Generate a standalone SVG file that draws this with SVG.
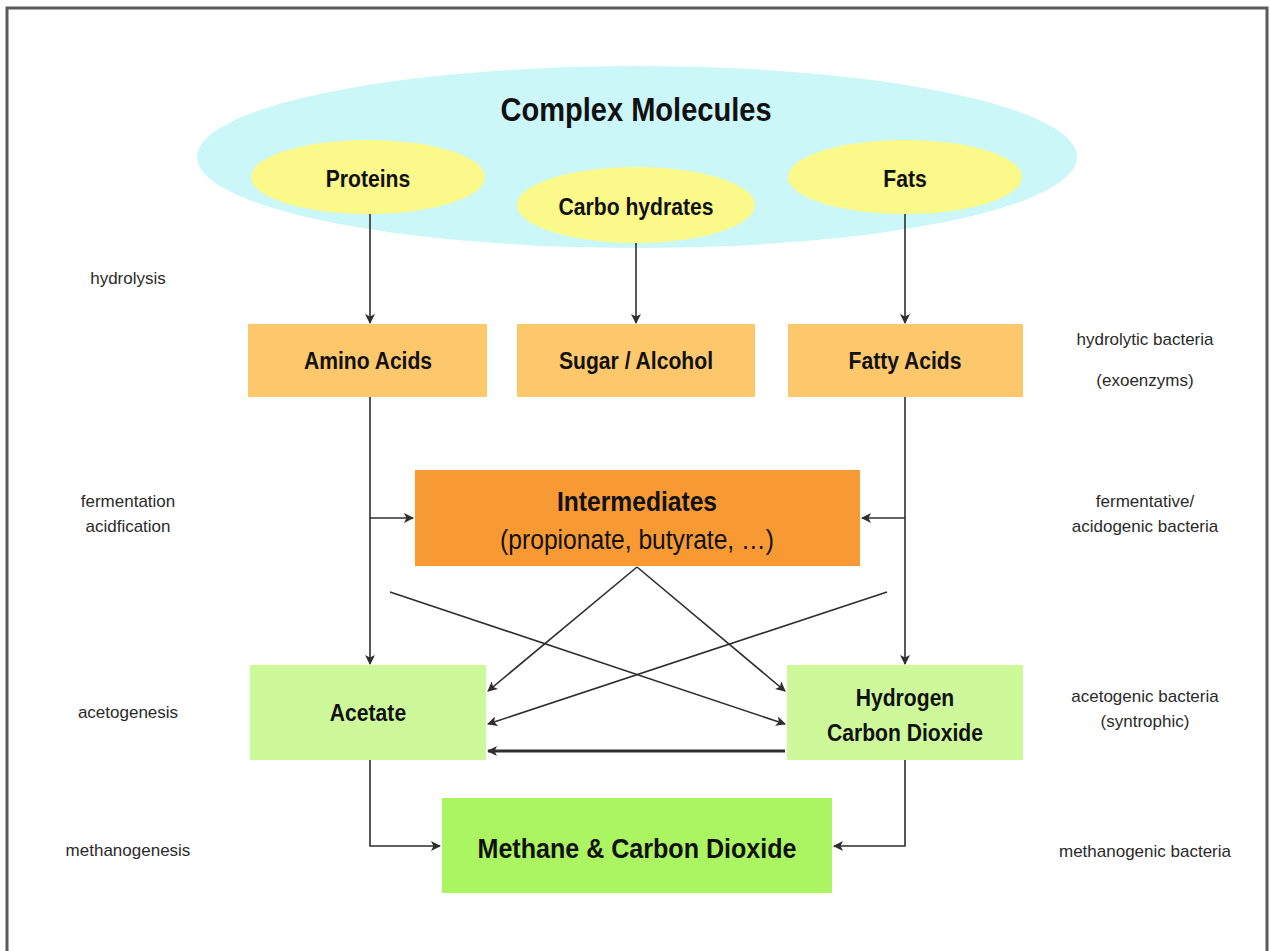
<svg xmlns="http://www.w3.org/2000/svg" width="1270" height="951" viewBox="0 0 1270 951">
  <defs>
    <marker id="arrow" viewBox="0 0 10 10" refX="9" refY="5" markerWidth="10" markerHeight="10" markerUnits="userSpaceOnUse" orient="auto">
      <path d="M0,0 L10,5 L0,10 L2.5,5 Z" fill="#2e2e2e"/>
    </marker>
    <style>
      .node-title { font-family: "Liberation Sans", Arial, sans-serif; font-weight: bold; fill: #111; text-anchor: middle; }
      .node-sub { font-family: "Liberation Sans", Arial, sans-serif; fill: #111; text-anchor: middle; }
      .stage { font-family: "Liberation Sans", Arial, sans-serif; font-size: 17px; fill: #2a2a2a; text-anchor: middle; }
      .conn { fill: none; stroke: #2e2e2e; stroke-width: 1.6; }
      .conn.heavy { stroke-width: 3; }
      .box-yellow { fill: #fbf98a; }
      .box-orange { fill: #fdc86c; }
      .box-deep { fill: #f89a33; }
      .box-lime { fill: #cdf99b; }
      .box-green { fill: #acf562; }
    </style>
  </defs>

  <rect width="1270" height="951" fill="#ffffff"/>
  <!-- page frame (open at the bottom) -->
  <path d="M7,951 L7,8 L1267,8 L1267,951" fill="none" stroke="#5a5a5a" stroke-width="3"/>

  <!-- substrate group; node labels use a slightly condensed bold face -->
  <g id="complex-molecules">
    <ellipse cx="637" cy="157" rx="440" ry="91" fill="#cbf7f9"/>
    <text class="node-title" transform="translate(636,121) scale(0.88,1)" font-size="33">Complex Molecules</text>
  </g>
  <g id="proteins">
    <ellipse class="box-yellow" cx="368" cy="177" rx="117" ry="37"/>
    <text class="node-title" transform="translate(368,187) scale(0.88,1)" font-size="24">Proteins</text>
  </g>
  <g id="carbohydrates">
    <ellipse class="box-yellow" cx="636" cy="205" rx="119" ry="38"/>
    <text class="node-title" transform="translate(636,215) scale(0.88,1)" font-size="24">Carbo hydrates</text>
  </g>
  <g id="fats">
    <ellipse class="box-yellow" cx="905" cy="177" rx="117" ry="37"/>
    <text class="node-title" transform="translate(905,187) scale(0.88,1)" font-size="24">Fats</text>
  </g>

  <!-- hydrolysis products -->
  <g id="amino-acids">
    <rect class="box-orange" x="248" y="324" width="239" height="73"/>
    <text class="node-title" transform="translate(368,369) scale(0.88,1)" font-size="24">Amino Acids</text>
  </g>
  <g id="sugar-alcohol">
    <rect class="box-orange" x="517" y="324" width="238" height="73"/>
    <text class="node-title" transform="translate(636,369) scale(0.88,1)" font-size="24">Sugar / Alcohol</text>
  </g>
  <g id="fatty-acids">
    <rect class="box-orange" x="788" y="324" width="235" height="73"/>
    <text class="node-title" transform="translate(905,369) scale(0.88,1)" font-size="24">Fatty Acids</text>
  </g>

  <g id="intermediates">
    <rect class="box-deep" x="415" y="470" width="445" height="96"/>
    <text class="node-title" transform="translate(637,511) scale(0.88,1)" font-size="28">Intermediates</text>
    <text class="node-sub" transform="translate(637,549) scale(0.88,1)" font-size="28">(propionate, butyrate, …)</text>
  </g>

  <g id="acetate">
    <rect class="box-lime" x="250" y="665" width="236" height="95"/>
    <text class="node-title" transform="translate(368,721) scale(0.88,1)" font-size="24">Acetate</text>
  </g>
  <g id="hydrogen-co2">
    <rect class="box-lime" x="787" y="665" width="236" height="95"/>
    <text class="node-title" transform="translate(905,706) scale(0.88,1)" font-size="24">Hydrogen</text>
    <text class="node-title" transform="translate(905,741) scale(0.88,1)" font-size="24">Carbon Dioxide</text>
  </g>

  <g id="methane-co2">
    <rect class="box-green" x="442" y="798" width="390" height="95"/>
    <text class="node-title" transform="translate(637,858) scale(0.88,1)" font-size="28.5">Methane &amp; Carbon Dioxide</text>
  </g>

  <!-- connectors -->
  <g id="connectors">
    <line class="conn" x1="370" y1="214" x2="370" y2="323" marker-end="url(#arrow)"/>
    <line class="conn" x1="636" y1="243" x2="636" y2="323" marker-end="url(#arrow)"/>
    <line class="conn" x1="905" y1="214" x2="905" y2="323" marker-end="url(#arrow)"/>

    <line class="conn" x1="370" y1="397" x2="370" y2="664" marker-end="url(#arrow)"/>
    <line class="conn" x1="370" y1="518" x2="413" y2="518" marker-end="url(#arrow)"/>
    <line class="conn" x1="905" y1="397" x2="905" y2="664" marker-end="url(#arrow)"/>
    <line class="conn" x1="905" y1="518" x2="862" y2="518" marker-end="url(#arrow)"/>

    <line class="conn" x1="637" y1="567" x2="488" y2="691" marker-end="url(#arrow)"/>
    <line class="conn" x1="637" y1="567" x2="785" y2="691" marker-end="url(#arrow)"/>
    <line class="conn" x1="390" y1="592" x2="785" y2="724" marker-end="url(#arrow)"/>
    <line class="conn" x1="887" y1="592" x2="488" y2="724" marker-end="url(#arrow)"/>

    <line class="conn heavy" x1="785" y1="751" x2="488" y2="751" marker-end="url(#arrow)"/>

    <polyline class="conn" points="370,760 370,846 440,846" marker-end="url(#arrow)"/>
    <polyline class="conn" points="905,760 905,846 834,846" marker-end="url(#arrow)"/>
  </g>

  <!-- process stages -->
  <g id="stage-labels">
    <text class="stage" x="128" y="284">hydrolysis</text>
    <text class="stage" x="128" y="507">fermentation</text>
    <text class="stage" x="128" y="532">acidfication</text>
    <text class="stage" x="128" y="718">acetogenesis</text>
    <text class="stage" x="128" y="856">methanogenesis</text>
  </g>

  <!-- organisms -->
  <g id="organism-labels">
    <text class="stage" x="1145" y="345">hydrolytic bacteria</text>
    <text class="stage" x="1145" y="386">(exoenzyms)</text>
    <text class="stage" x="1145" y="507">fermentative/</text>
    <text class="stage" x="1145" y="532">acidogenic bacteria</text>
    <text class="stage" x="1145" y="702">acetogenic bacteria</text>
    <text class="stage" x="1145" y="727">(syntrophic)</text>
    <text class="stage" x="1145" y="857">methanogenic bacteria</text>
  </g>
</svg>
